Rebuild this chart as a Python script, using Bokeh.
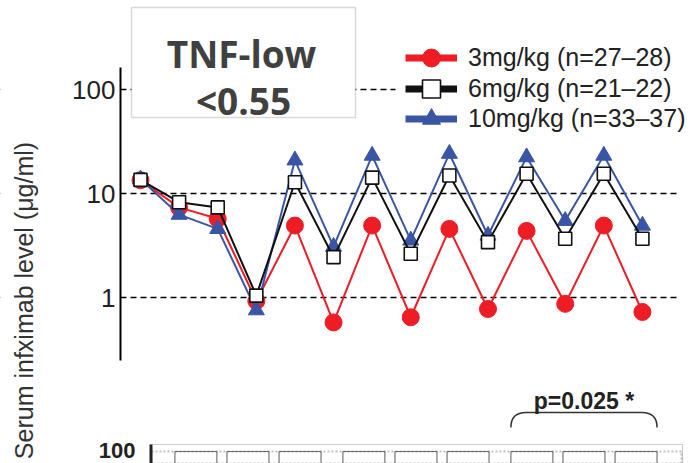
import numpy as np
from bokeh.plotting import figure
from bokeh.models import (Range1d, FixedTicker, Label, BoxAnnotation, Legend,
                          LegendItem, LinearScale)
from bokeh.embed import file_html
from bokeh.resources import INLINE

# ---------------- data ----------------
timepoints = list(range(14))
red_3mg = [13.5, 7.4, 5.75, 0.93, 4.95, 0.58, 4.95, 0.65, 4.6, 0.78, 4.4, 0.875, 4.95, 0.73]
black_6mg = [13.6, 8.3, 7.4, 1.05, 12.9, 2.46, 14.3, 2.65, 15.0, 3.43, 15.6, 3.7, 15.6, 3.7]
blue_10mg = [13.8, 6.3, 4.6, 0.76, 21.0, 3.1, 23.3, 3.56, 24.3, 3.97, 22.5, 5.5, 23.3, 4.95]
series_labels = ["3mg/kg (n=27\u201328)", "6mg/kg (n=21\u201322)", "10mg/kg (n=33\u201337)"]
y_ticks = [1, 10, 100]
y_title = "Serum infximab level (\u03bcg/ml)"
panel_title = ["TNF-low", "<0.55"]

# lower (cropped) panel: 3 groups x 3 doses, stacked to 100 %
bottom_group = [0, 0, 0, 1, 1, 1, 2, 2, 2]
bottom_dose = [0, 1, 2, 0, 1, 2, 0, 1, 2]
bottom_total = [100, 100, 100, 100, 100, 100, 100, 100, 100]
bottom_tick = ["100"]
p_text = "p=0.025 *"
p_group = 2

# ---------------- style ----------------
RED = "#ee1c25"
BLUE = "#3a55a6"
BLACK = "#111111"
TXT = "#222222"
FONT = "Liberation Sans"
W, H = 692, 463

p = figure(width=W, height=H, y_axis_type="log",
           x_range=Range1d(-3.626, 14.297), y_range=Range1d(0.02551, 722.3),
           x_axis_location=None, toolbar_location=None, output_backend="svg",
           min_border_left=0, min_border_right=0, min_border_top=0,
           min_border_bottom=0)
p.outline_line_color = None
p.xgrid.visible = False
p.background_fill_color = "white"
p.border_fill_color = "white"

ticker = FixedTicker(ticks=y_ticks)
ax = p.yaxis[0]
ax.ticker = ticker
ax.fixed_location = -0.518
ax.bounds = (0.25, 164)
ax.axis_line_width = 2
ax.axis_line_color = "black"
ax.major_tick_out = 0
ax.major_tick_in = 0
ax.minor_tick_out = 0
ax.minor_tick_in = 0
ax.major_label_standoff = 5
ax.major_label_text_font = FONT
ax.major_label_text_font_size = "26px"
ax.major_label_text_color = TXT
ax.major_label_overrides = {t: str(t) for t in y_ticks}

p.ygrid.ticker = ticker
p.ygrid.grid_line_color = "black"
p.ygrid.grid_line_dash = "6 4"
p.ygrid.grid_line_width = 1.3
p.ygrid.minor_grid_line_color = None

# hide the grid lines left of the y axis, right of the panel and behind the legend
for l, r, t, b in [(0, 119, None, None), (678, W, None, None), (395, W, 423, 328)]:
    p.add_layout(BoxAnnotation(left=l, right=r, top=t, bottom=b,
                               left_units="screen", right_units="screen",
                               top_units="screen", bottom_units="screen",
                               fill_color="white", fill_alpha=1, line_color=None,
                               level="underlay"))

# extra ranges for the cropped lower panel
p.extra_x_ranges = {"bx": Range1d(-1.473, 2.646)}
p.extra_y_ranges = {"pct": Range1d(95.2, 280.4)}
p.extra_x_scales = {"bx": LinearScale()}
p.extra_y_scales = {"pct": LinearScale()}

offs = [-0.31, 0.0, 0.31]
bw = 0.25
bar_x = [g + offs[d] for g, d in zip(bottom_group, bottom_dose)]
p.vbar(x=bar_x, top=bottom_total, bottom=0, width=bw, fill_color="white",
       line_color="#777777", line_width=1.2, x_range_name="bx", y_range_name="pct")

# ---------------- series ----------------
r_line = p.line(timepoints, red_3mg, line_color=RED, line_width=2)
r_pts = p.scatter(timepoints, red_3mg, marker="circle", size=17,
                  fill_color=RED, line_color=RED)
b_line = p.line(timepoints, blue_10mg, line_color=BLUE, line_width=2)
b_pts = p.scatter(timepoints, blue_10mg, marker="triangle", size=16,
                  fill_color=BLUE, line_color=BLUE)
k_line = p.line(timepoints, black_6mg, line_color=BLACK, line_width=2)
k_pts = p.scatter(timepoints, black_6mg, marker="square", size=13,
                  fill_color="white", line_color=BLACK, line_width=1.6)

# thick legend lines (legend only, nothing drawn in the plot)
nan = np.array([np.nan])
lr = p.line(x=nan, y=nan, line_color=RED, line_width=7)
lk = p.line(x=nan, y=nan, line_color=BLACK, line_width=7)
lb = p.line(x=nan, y=nan, line_color=BLUE, line_width=7)

# one legend per entry so that the glyphs can be large while rows stay close
for lab, rends, yloc in zip(series_labels, [[lr, r_pts], [lk, k_pts], [lb, b_pts]],
                            [383, 352, 322]):
    lg = Legend(items=[LegendItem(label=lab, renderers=rends)],
                location=(405, yloc), glyph_width=52, glyph_height=45, spacing=0,
                padding=0, label_standoff=11, label_text_font=FONT,
                label_text_font_size="25px", label_text_color=TXT,
                background_fill_alpha=0, border_line_color=None, margin=0)
    p.add_layout(lg, "center")

# ---------------- title box ----------------
p.add_layout(BoxAnnotation(left=131, right=355, top=456, bottom=346,
                           left_units="screen", right_units="screen",
                           top_units="screen", bottom_units="screen",
                           fill_color="white", fill_alpha=1,
                           line_color="#808080", line_width=1.5))
for txt, xx, yy in zip(panel_title, [241, 243], [410, 363]):
    p.add_layout(Label(x=xx, y=yy, x_units="screen", y_units="screen", text=txt,
                       text_align="center", text_baseline="alphabetic",
                       text_font="Open Sans", text_font_style="bold",
                       text_font_size="37px", text_color="#404040"))

# ---------------- y title ----------------
p.add_layout(Label(x=23, y=163, x_units="screen", y_units="screen", text=y_title,
                   angle=np.pi / 2, text_align="center", text_baseline="middle",
                   text_font=FONT, text_font_size="25px", text_color="#333333"))

# ---------------- lower panel frame ----------------
p.add_layout(BoxAnnotation(left=150, right=682, top=19, left_units="screen",
                           right_units="screen", top_units="screen",
                           fill_alpha=0, line_color="#555555", line_width=1.2))
p.add_layout(BoxAnnotation(left=151, right=681, top=12, left_units="screen",
                           right_units="screen", top_units="screen",
                           fill_alpha=0, line_color="#333333", line_width=2,
                           line_dash="2 2"))
p.add_layout(BoxAnnotation(left=149, right=152, top=19, left_units="screen",
                           right_units="screen", top_units="screen",
                           fill_color="#222222", fill_alpha=1, line_color=None))
p.add_layout(Label(x=135, y=13, x_units="screen", y_units="screen", text=bottom_tick[0],
                   text_align="right", text_baseline="middle", text_font=FONT,
                   text_font_style="bold", text_font_size="22px", text_color=TXT))

# brace + p value over the last group
sel = [x for x, g in zip(bar_x, bottom_group) if g == p_group]
bx0 = min(sel) - bw / 2
bx1 = max(sel) + bw / 2
ytop, yend, rr = 115.6, 109.6, 0.09
p.quadratic(x0=[bx0, bx1 - rr], y0=[yend, ytop], x1=[bx0 + rr, bx1], y1=[ytop, yend],
            cx=[bx0, bx1], cy=[ytop, ytop], line_color="#333333", line_width=1.5,
            x_range_name="bx", y_range_name="pct")
p.segment(x0=[bx0 + rr], y0=[ytop], x1=[bx1 - rr], y1=[ytop], line_color="#333333",
          line_width=1.5, x_range_name="bx", y_range_name="pct")
p.add_layout(Label(x=p_group, y=120.4, x_range_name="bx", y_range_name="pct",
                   text=p_text, text_align="center", text_baseline="alphabetic",
                   text_font=FONT, text_font_style="bold", text_font_size="23px",
                   text_color=TXT))

open("out.html", "w").write(file_html(p, INLINE))
